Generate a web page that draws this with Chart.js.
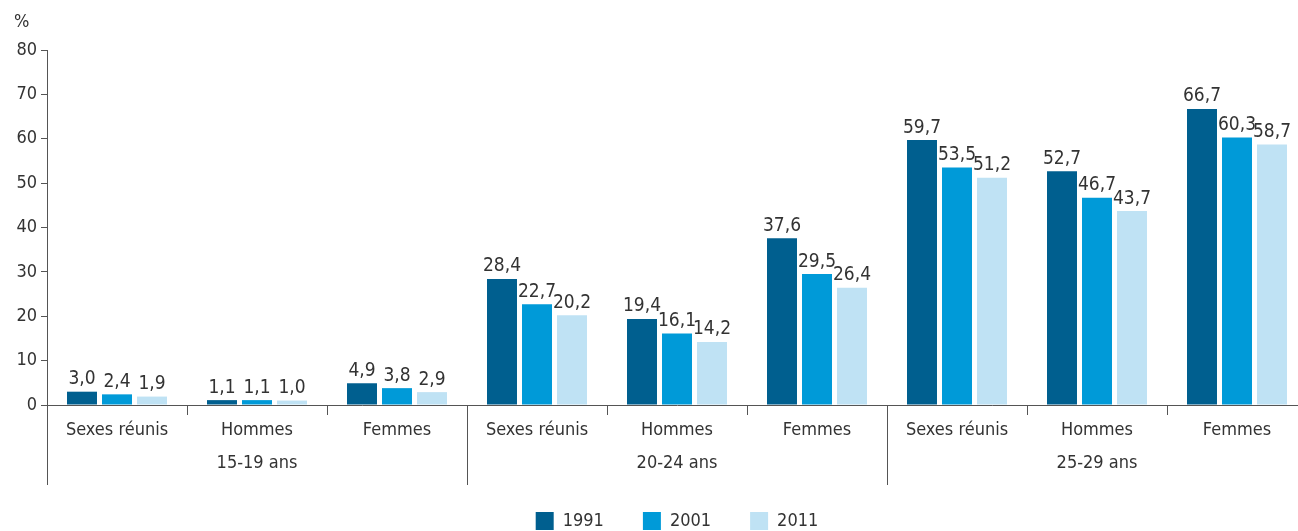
<!DOCTYPE html>
<html lang="fr">
<head>
<meta charset="UTF-8">
<title>Taux par âge et sexe</title>
<script src="https://cdn.jsdelivr.net/npm/chart.js"></script>
<style>
    body { margin: 0; padding: 0; background: #fff; overflow: hidden; }
    .wrap { width: 1310px; height: 531px; }
</style>
</head>
<body>
<div class="wrap"><canvas id="chart" width="1310" height="531"></canvas></div>
<script>
const categories = ['Sexes réunis', 'Hommes', 'Femmes', 'Sexes réunis', 'Hommes', 'Femmes', 'Sexes réunis', 'Hommes', 'Femmes'];
const groups = ['15-19 ans', '20-24 ans', '25-29 ans'];
const years = ['1991', '2001', '2011'];
const v1991 = [3.0, 1.1, 4.9, 28.4, 19.4, 37.6, 59.7, 52.7, 66.7];
const v2001 = [2.4, 1.1, 3.8, 22.7, 16.1, 29.5, 53.5, 46.7, 60.3];
const v2011 = [1.9, 1.0, 2.9, 20.2, 14.2, 26.4, 51.2, 43.7, 58.7];
const yTicks = [0, 10, 20, 30, 40, 50, 60, 70, 80];

const colors = ['#005f8f', '#009ad8', '#bfe2f4'];
const font = "'DejaVu Sans Condensed', 'Liberation Sans Narrow', sans-serif";
const textColor = '#333333';
const axisColor = '#555555';

const fmt = v => v.toFixed(1).replace('.', ',');

// value labels, group separators, group names and the % sign
const extras = {
    id: 'extras',
    afterDatasetsDraw(chart) {
        const ctx = chart.ctx;
        ctx.save();
        ctx.font = '19px ' + font;
        ctx.fillStyle = textColor;
        ctx.textAlign = 'center';
        ctx.textBaseline = 'bottom';
        chart.data.datasets.forEach((ds, i) => {
            chart.getDatasetMeta(i).data.forEach((bar, j) => {
                ctx.fillText(fmt(ds.data[j]), bar.x, bar.y - 3);
            });
        });
        ctx.restore();
    },
    afterDraw(chart) {
        const ctx = chart.ctx;
        const x = chart.scales.x;
        const area = chart.chartArea;
        const step = x.getPixelForValue(1) - x.getPixelForValue(0);
        ctx.save();
        ctx.strokeStyle = axisColor;
        ctx.lineWidth = 1;
        for (let i = 0; i <= categories.length; i++) {
            const px = Math.round(x.getPixelForValue(i) - step / 2) + 0.5;
            const long = i % 3 === 0;
            ctx.beginPath();
            ctx.moveTo(px, area.bottom);
            ctx.lineTo(px, long ? area.bottom + 80 : area.bottom + 10);
            ctx.stroke();
        }
        ctx.font = '18px ' + font;
        ctx.fillStyle = textColor;
        ctx.textAlign = 'center';
        ctx.textBaseline = 'middle';
        groups.forEach((g, i) => {
            ctx.fillText(g, x.getPixelForValue(i * 3 + 1), area.bottom + 58);
        });
        ctx.textAlign = 'left';
        ctx.fillText('%', 14, 22);
        ctx.restore();
    }
};

new Chart(document.getElementById('chart'), {
    type: 'bar',
    data: {
        labels: categories,
        datasets: years.map((y, i) => ({
            label: y,
            data: [v1991, v2001, v2011][i],
            backgroundColor: colors[i],
            borderWidth: 0,
            categoryPercentage: 0.75,
            barPercentage: 0.857
        }))
    },
    options: {
        responsive: false,
        animation: false,
        layout: { padding: { top: 50, left: 0, right: 3, bottom: -9 } },
        plugins: {
            legend: {
                position: 'bottom',
                fullSize: false,
                labels: {
                    boxWidth: 18,
                    boxHeight: 18,
                    padding: 39,
                    color: textColor,
                    font: { family: font, size: 18 }
                }
            },
            tooltip: { enabled: false }
        },
        scales: {
            x: {
                grid: { display: false },
                border: { color: axisColor },
                ticks: { color: textColor, font: { family: font, size: 18 }, padding: 7, maxRotation: 0 },
                afterFit: s => { s.height = 68; }
            },
            y: {
                min: 0,
                max: 80,
                afterBuildTicks: s => { s.ticks = yTicks.map(v => ({ value: v })); },
                grid: { drawOnChartArea: false, tickLength: 6, color: axisColor },
                border: { color: axisColor },
                ticks: { color: textColor, font: { family: font, size: 18 }, padding: 4 },
                afterFit: s => { s.width = 47; }
            }
        }
    },
    plugins: [extras]
});
</script>
</body>
</html>
